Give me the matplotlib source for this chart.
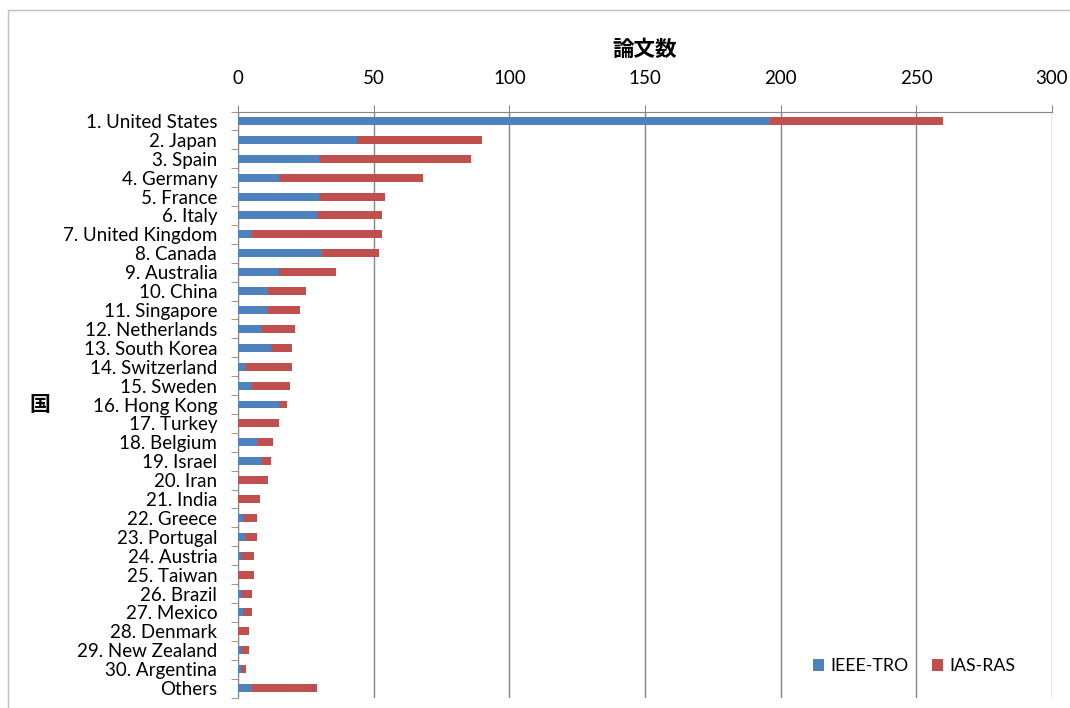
import matplotlib
matplotlib.use("Agg")
import matplotlib.pyplot as plt
from matplotlib.patches import Rectangle
import numpy as np

plt.rcParams['font.family'] = ['Lato', 'Noto Sans CJK JP', 'DejaVu Sans']

countries = ['1. United States', '2. Japan', '3. Spain', '4. Germany', '5. France',
             '6. Italy', '7. United Kingdom', '8. Canada', '9. Australia', '10. China',
             '11. Singapore', '12. Netherlands', '13. South Korea', '14. Switzerland',
             '15. Sweden', '16. Hong Kong', '17. Turkey', '18. Belgium', '19. Israel',
             '20. Iran', '21. India', '22. Greece', '23. Portugal', '24. Austria',
             '25. Taiwan', '26. Brazil', '27. Mexico', '28. Denmark', '29. New Zealand',
             '30. Argentina', 'Others']
ieee_tro = [196, 44, 30, 15, 30, 29, 5, 31, 15, 11,
            11, 9, 12, 3, 5, 15, 0, 7, 9, 0,
            0, 2, 3, 1, 0, 1, 2, 0, 1, 1, 5]
ias_ras = [64, 46, 56, 53, 24, 24, 48, 21, 21, 14,
           12, 12, 8, 17, 14, 3, 15, 6, 3, 11,
           8, 5, 4, 5, 6, 4, 3, 4, 3, 2, 24]

fig = plt.figure(figsize=(10.7, 7.08), dpi=100)
ax = fig.add_axes([238 / 1070, 1 - 697.5 / 708, (1052 - 238) / 1070, (697.5 - 111.5) / 708])

y = np.arange(len(countries))
ax.barh(y, ieee_tro, height=0.42, color='#4F81BD', label='IEEE-TRO', zorder=3)
ax.barh(y, ias_ras, left=ieee_tro, height=0.42, color='#C0504D', label='IAS-RAS', zorder=3)

ax.set_xlim(0, 300)
ax.set_ylim(len(countries) - 0.5, -0.5)
ax.set_xticks(range(0, 301, 50))
ax.xaxis.tick_top()
ax.xaxis.set_label_position('top')
ax.set_xlabel('論文数', fontsize=15.5, fontweight='bold', labelpad=10)
ax.set_yticks(y)
ax.set_yticklabels(countries)
ax.set_yticks(np.arange(-0.5, len(countries), 1), minor=True)
ax.tick_params(axis='y', which='major', length=0, pad=15, labelsize=13.5)
ax.tick_params(axis='y', which='minor', length=5, color='#868686')
ax.tick_params(axis='x', length=5, color='#868686', labelsize=13.5, pad=13)
ax.grid(axis='x', color='#868686', linewidth=1, zorder=0)

for s in ['right', 'bottom']:
    ax.spines[s].set_visible(False)
for s in ['top', 'left']:
    ax.spines[s].set_color('#868686')

fig.text(40 / 1070, 1 - 405 / 708, '国', fontsize=15, fontweight='bold',
         ha='center', va='center')

ax.legend(loc='lower right', bbox_to_anchor=(0.975, 0.012), ncol=2, frameon=False,
          fontsize=12.8, handlelength=0.65, handleheight=0.65, columnspacing=1.3,
          handletextpad=0.35)

fig.patches.append(Rectangle((8 / 1070, -0.1), 1.2, 1.1 - 10 / 708, transform=fig.transFigure,
                             fill=False, edgecolor='#bfbfbf', linewidth=1))

fig.savefig('out.png', dpi=100)
